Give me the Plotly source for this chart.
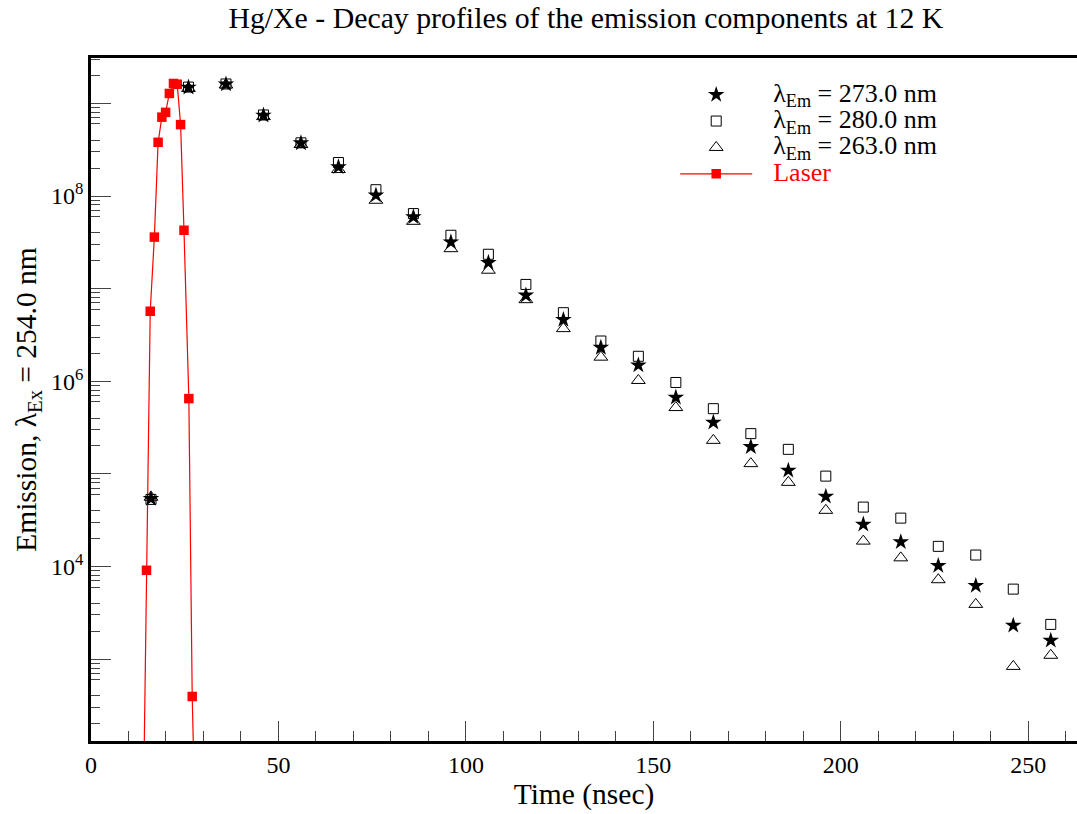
import plotly.graph_objects as go

# ---------------- data ----------------
t_em = [16, 26, 36, 46, 56, 66, 76, 86, 96, 106, 116, 126, 136, 146, 156,
        166, 176, 186, 196, 206, 216, 226, 236, 246, 256]

em_273 = [5.4e4, 1.49e9, 1.61e9, 7.43e8, 3.73e8, 2.06e8, 1.02e8, 5.93e7, 3.18e7,
          1.91e7, 8.47e6, 4.62e6, 2.31e6, 1.49e6, 6.7e5, 3.6e5, 1.96e5, 1.09e5,
          5.71e4, 2.85e4, 1.84e4, 1.02e4, 6.21e3, 2.31e3, 1.59e3]

em_280 = [5.3e4, 1.5e9, 1.62e9, 7.5e8, 3.75e8, 2.3e8, 1.17e8, 6.46e7, 3.77e7,
          2.35e7, 1.11e7, 5.5e6, 2.72e6, 1.86e6, 9.7e5, 5.06e5, 2.72e5, 1.84e5,
          9.46e4, 4.38e4, 3.33e4, 1.65e4, 1.33e4, 5.7e3, 2.37e3]

em_263 = [5.6e4, 1.45e9, 1.58e9, 7.2e8, 3.6e8, 1.93e8, 9.0e7, 5.33e7, 2.7e7,
          1.58e7, 7.6e6, 3.7e6, 1.82e6, 1.02e6, 5.2e5, 2.3e5, 1.29e5, 8.1e4,
          4.04e4, 1.88e4, 1.24e4, 7.2e3, 3.9e3, 834, 1.1e3]

t_laser = [13.9, 14.8, 15.8, 16.9, 17.9, 18.9, 19.9, 20.9, 22.0, 23.0, 23.9,
           24.8, 26.1, 27.0, 28.0]
laser = [15, 9.1e3, 5.7e6, 3.6e7, 3.8e8, 7.1e8, 8.0e8, 1.28e9, 1.64e9, 1.61e9,
         5.9e8, 4.27e7, 6.5e5, 395, 7]

series_names = ["λ<sub>Em</sub> = 273.0 nm", "λ<sub>Em</sub> = 280.0 nm",
                "λ<sub>Em</sub> = 263.0 nm", "Laser"]

x_tickvals = [0, 50, 100, 150, 200, 250]
y_decades = [1e3, 1e4, 1e5, 1e6, 1e7, 1e8, 1e9]
y_ticktext = ["", "10<sup>4</sup>", "", "10<sup>6</sup>", "", "10<sup>8</sup>", ""]
y_fives = [5e2, 5e3, 5e4, 5e5, 5e6, 5e7, 5e8]
y_minor = [m * d for d in [1e2, 1e3, 1e4, 1e5, 1e6, 1e7, 1e8, 1e9] for m in (2, 3, 4, 6, 7, 8, 9)]

FONT = "Liberation Serif"
PAD = '<span style="font-size:32px">\u00a0\u00a0</span>'


def legend_label(text, color=None):
    style = "font-size:26px" + (";fill:%s" % color if color else "")
    return PAD + '<span style="%s">%s</span>' % (style, text)


fig = go.Figure()

fig.add_trace(go.Scatter(
    x=t_laser, y=laser, mode="lines+markers",
    name=legend_label(series_names[3], "#ff0000"),
    line=dict(color="#ff0000", width=1.2),
    marker=dict(symbol="square", size=9.5, color="#ff0000"),
    legendrank=4))

fig.add_trace(go.Scatter(
    x=t_em, y=em_263, mode="markers",
    name=legend_label(series_names[2]),
    marker=dict(symbol="triangle-up-open", size=12, color="black", line=dict(width=1)),
    legendrank=3))

fig.add_trace(go.Scatter(
    x=t_em, y=em_280, mode="markers",
    name=legend_label(series_names[1]),
    marker=dict(symbol="square-open", size=10, color="black", line=dict(width=1)),
    legendrank=2))

fig.add_trace(go.Scatter(
    x=t_em, y=em_273, mode="markers",
    name=legend_label(series_names[0]),
    marker=dict(symbol="star", size=12.5, color="black", line=dict(width=0)),
    legendrank=1))

fig.update_layout(
    width=1077, height=814,
    margin=dict(l=91, r=0, t=58, b=73),
    paper_bgcolor="white", plot_bgcolor="white",
    font=dict(family=FONT, size=22, color="black"),
    title=dict(text="Hg/Xe - Decay profiles of the emission components at 12 K",
               x=0.544, xanchor="center", y=0.978, yanchor="middle",
               font=dict(family=FONT, size=29.8)),
    showlegend=True,
    legend=dict(x=0.5925, y=0.973, xanchor="left", yanchor="top",
                bgcolor="rgba(0,0,0,0)", borderwidth=0,
                font=dict(family=FONT, size=18),
                itemwidth=72, tracegroupgap=0),
    xaxis=dict(
        range=[0, 263], showgrid=False, zeroline=False,
        showline=True, linecolor="black", linewidth=2.5, mirror=True,
        ticks="inside", ticklen=20, tickwidth=1.2, tickcolor="#444",
        tickmode="array", tickvals=x_tickvals,
        tickfont=dict(family=FONT, size=24),
        minor=dict(ticks="inside", ticklen=10, tickwidth=1.2, tickcolor="#444",
                   dtick=10, tick0=0, showgrid=False),
        title=dict(text="Time (nsec)", font=dict(family=FONT, size=29.5), standoff=4),
    ),
    yaxis=dict(
        type="log", range=[2.116, 9.49], showgrid=False, zeroline=False,
        showline=True, linecolor="black", linewidth=2.5, mirror=False,
        ticks="inside", ticklen=20, tickwidth=1.2, tickcolor="#444",
        tickmode="array", tickvals=y_decades, ticktext=y_ticktext,
        tickfont=dict(family=FONT, size=24),
        minor=dict(ticks="inside", ticklen=9, tickwidth=1.2, tickcolor="#444",
                   tickvals=y_minor, showgrid=False),
        title=dict(text="Emission, λ<sub>Ex</sub> = 254.0 nm",
                   font=dict(family=FONT, size=29.5), standoff=6),
    ),
    yaxis2=dict(
        type="log", range=[2.116, 9.49], overlaying="y", side="left",
        showgrid=False, zeroline=False, showline=False,
        ticks="inside", ticklen=15, tickwidth=1.2, tickcolor="#444",
        tickmode="array", tickvals=y_fives, ticktext=[""] * len(y_fives),
        showticklabels=False,
    ),
)

fig.write_html("out.html")
